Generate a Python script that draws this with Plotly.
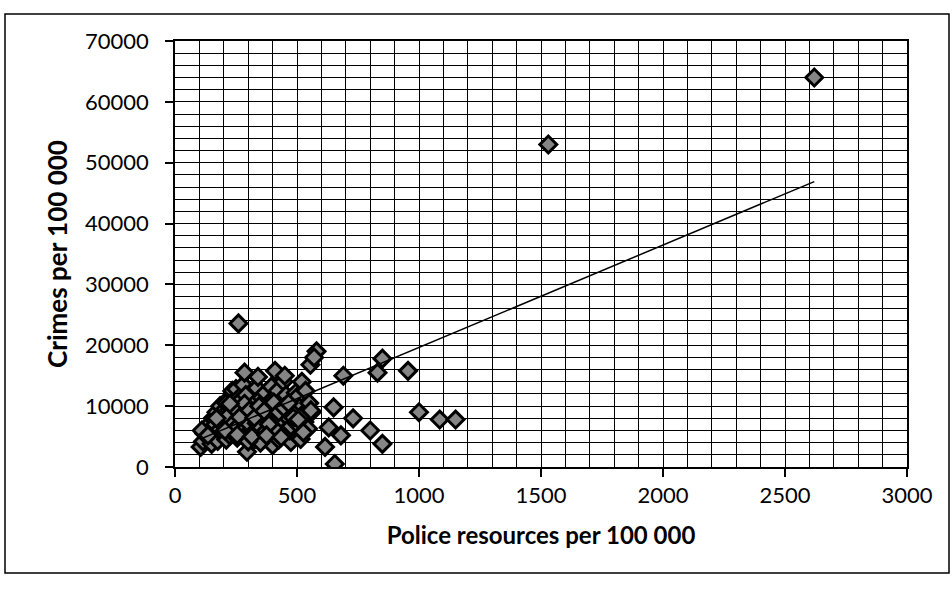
import plotly.graph_objects as go

# Police resources per 100 000 (x) and crimes per 100 000 (y)
police = [
    105, 115, 120, 130, 140, 145, 110, 150,
    155, 160, 165, 170, 175, 180, 185, 190, 195, 200,
    205, 210, 215, 220, 225, 230, 235, 240, 245, 250, 250,
    255, 260, 265, 270, 275, 280, 285, 290, 295, 295, 300, 300,
    305, 310, 315, 320, 325, 330, 335, 340, 345, 350, 350,
    355, 360, 365, 370, 375, 380, 385, 390, 395, 400, 400, 400,
    405, 410, 415, 420, 425, 430, 435, 440, 445, 450, 450, 450,
    455, 460, 465, 470, 475, 480, 485, 490, 495, 500, 500,
    505, 510, 515, 520, 525, 530, 535, 540, 545, 550, 555, 560,
    200, 230, 260, 280, 310, 330, 340, 360, 380, 410, 430, 250, 220,
    300, 270, 350, 420, 460, 190, 240, 320, 370, 400, 440, 480, 290,
    210, 350, 470, 300,
    135, 165, 185, 215, 235, 255, 275, 295, 315, 335, 355, 375, 395, 415,
    435, 455, 475, 495, 515, 170, 205, 245, 265, 285, 305, 325, 345, 365,
    385, 405, 425, 445, 465, 485, 505, 225, 255, 315, 375, 435,
    526, 557, 580, 570, 630, 615, 655, 650, 680, 690, 730, 800, 830,
    850, 850, 955, 1000, 1085, 1150, 1530, 2620, 260,
]
crimes = [
    3300, 4200, 5500, 6500, 4800, 7200, 6000, 3800,
    8000, 5000, 6200, 9000, 4300, 7000, 10000, 5600, 8300, 6700,
    9500, 4500, 11000, 7600, 5200, 8800, 12500, 6300, 10200, 7200, 12800,
    4800, 9000, 11500, 6000, 8000, 13500, 15500, 7000, 2500, 10000, 5500, 8600,
    12000, 6500, 9200, 4300, 10800, 7500, 13000, 14800, 5800, 8200, 11200,
    6800, 9600, 4700, 12200, 7800, 10400, 5400, 8800, 13200, 3600, 6200, 11000,
    9300, 15800, 7300, 12500, 4500, 8500, 10700, 5900, 14000, 15000, 7000, 9500,
    11800, 6400, 4800, 8700, 4100, 10300, 7600, 5500, 12200, 11500, 8200,
    6800, 9800, 4600, 14000, 5800, 7400, 12500, 9300, 6300, 10500, 16800, 9000,
    8000, 6500, 7800, 9500, 8300, 9000, 6800, 7500, 8400, 8000, 6600, 5800, 9300,
    10800, 11000, 9800, 9700, 8900, 7500, 8500, 7000, 6000, 7800, 7600, 9000, 11800,
    10500, 4000, 6000, 4200,
    5200, 7000, 6200, 8300, 7000, 6600, 9800, 7400, 8700, 7200, 8600, 9000, 7100, 6100,
    8000, 8400, 6700, 7300, 8200, 8000, 6000, 9600, 8200, 10400, 9300, 8100, 10000, 9200,
    7000, 10600, 9000, 9800, 10500, 8100, 7800, 10400, 5300, 5000, 5200, 4900,
    5700, 9300, 19000, 18000, 6500, 3300, 500, 9800, 5200, 15000, 8000, 6000, 15500,
    17800, 3800, 15800, 9000, 7800, 7800, 53000, 64000, 23600,
]

# Linear trend line, end points
trend_x = [105, 2620]
trend_y = [4600, 46900]

x_ticks = [0, 500, 1000, 1500, 2000, 2500, 3000]
y_ticks = [0, 10000, 20000, 30000, 40000, 50000, 60000, 70000]

FONT = "Lato"

fig = go.Figure()
fig.add_trace(go.Scatter(
    x=police, y=crimes, mode="markers",
    marker=dict(symbol="diamond", size=13, color="#858585",
                line=dict(color="black", width=3)),
    showlegend=False, hoverinfo="x+y",
))
fig.add_trace(go.Scatter(
    x=trend_x, y=trend_y, mode="lines",
    line=dict(color="black", width=1.5), showlegend=False,
))

axis_common = dict(
    showline=True, linecolor="black", linewidth=1.5, mirror=True,
    ticks="outside", ticklen=8, tickcolor="black", tickwidth=1.5,
    showgrid=True, gridcolor="black", gridwidth=1.2,
    zeroline=False, automargin=False,
    tickfont=dict(family=FONT, size=22, color="black"),
)

fig.update_xaxes(
    range=[0, 3000], tickvals=x_ticks, ticktext=[str(v) for v in x_ticks],
    minor=dict(dtick=100, showgrid=True, gridcolor="black", gridwidth=1.2, ticks=""),
    title=dict(text="<b>Police resources per 100 000</b>",
               font=dict(family=FONT, size=24, color="black"), standoff=20),
    **axis_common,
)
fig.update_yaxes(
    range=[0, 70000], tickvals=y_ticks, ticktext=[str(v) for v in y_ticks],
    ticklabelstandoff=12,
    minor=dict(dtick=2000, showgrid=True, gridcolor="black", gridwidth=1.2, ticks=""),
    title=dict(text="<b>Crimes per 100 000</b>",
               font=dict(family=FONT, size=26, color="black"), standoff=10),
    **axis_common,
)

fig.update_layout(
    width=952, height=590,
    margin=dict(l=175, r=45, t=41, b=123),
    paper_bgcolor="white", plot_bgcolor="white",
    font=dict(family=FONT, color="black"),
    shapes=[dict(type="rect", xref="paper", yref="paper",
                 x0=-170 / 732, x1=1 + 42 / 732,
                 y0=-106 / 426, y1=1 + 27 / 426,
                 line=dict(color="black", width=1.5), layer="below")],
)

fig.write_html(
    "out.html",
    config={"displayModeBar": False},
    post_script="document.body.style.margin='0';document.body.style.padding='0';",
)
